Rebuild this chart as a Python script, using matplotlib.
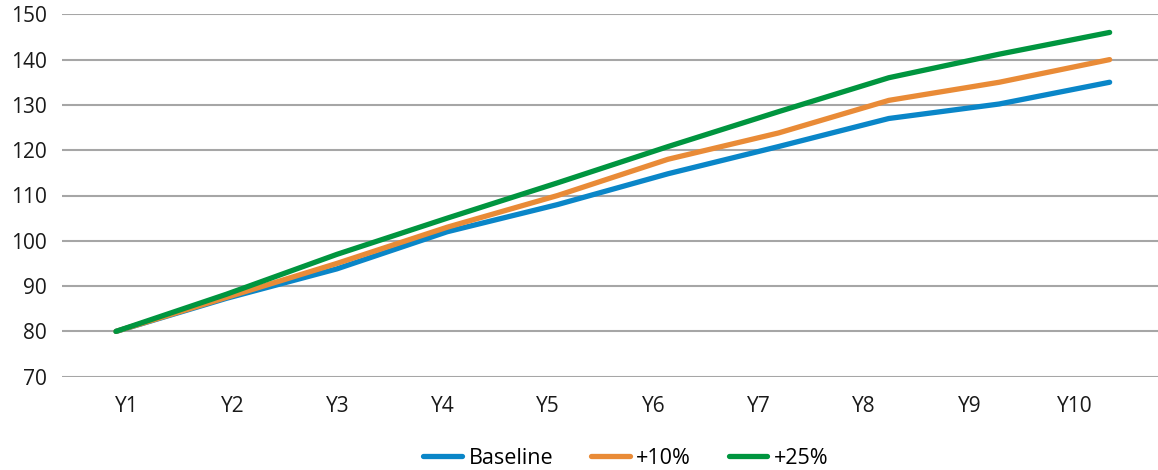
import numpy as np
import matplotlib
matplotlib.use("Agg")
import matplotlib.pyplot as plt

# --- data ---
years = ["Y1", "Y2", "Y3", "Y4", "Y5", "Y6", "Y7", "Y8", "Y9", "Y10"]
baseline = [80, 87.3, 93.8, 102, 108, 114.8, 120.8, 127, 130.2, 135]
plus10 = [80, 87.5, 95, 103, 110, 118, 123.8, 131, 135, 140]
plus25 = [80, 88.2, 97, 105, 112.8, 120.8, 128.5, 136, 141.2, 146]

series = [
    ("Baseline", baseline, "#0a86c8"),
    ("+10%", plus10, "#e98b37"),
    ("+25%", plus25, "#00953f"),
]

plt.rcParams["font.family"] = ["Open Sans", "DejaVu Sans"]

fig = plt.figure(figsize=(11.58, 4.70), dpi=100)
ax = fig.add_axes([62 / 1158, 93.3 / 470, 1 - 62 / 1158, 362.4 / 470])

x = np.arange(len(years))
for name, vals, col in series:
    ax.plot(x, vals, color=col, lw=3.8, solid_capstyle="round", label=name)

ax.set_ylim(70, 150)
ax.set_yticks(range(70, 151, 10))
ax.set_xlim(-0.489, 9.438)

# category labels sit slightly off the data points in the original
ax.set_xticks(0.0996 + 0.954 * x)
ax.set_xticklabels(years)

ax.grid(axis="y", color="#a6a6a6", lw=1.5)
ax.set_axisbelow(True)
for s in ax.spines.values():
    s.set_visible(False)
ax.tick_params(length=0, labelsize=15, colors="#1a1a1a")
ax.tick_params(axis="y", pad=11)
ax.tick_params(axis="x", pad=14)

fig.legend(loc="center", bbox_to_anchor=(626 / 1158, 1 - 458 / 470), ncol=3,
           frameon=False, fontsize=15.5, handlelength=1.8, handletextpad=0.3,
           columnspacing=1.75)

fig.savefig("out.png", dpi=100)
